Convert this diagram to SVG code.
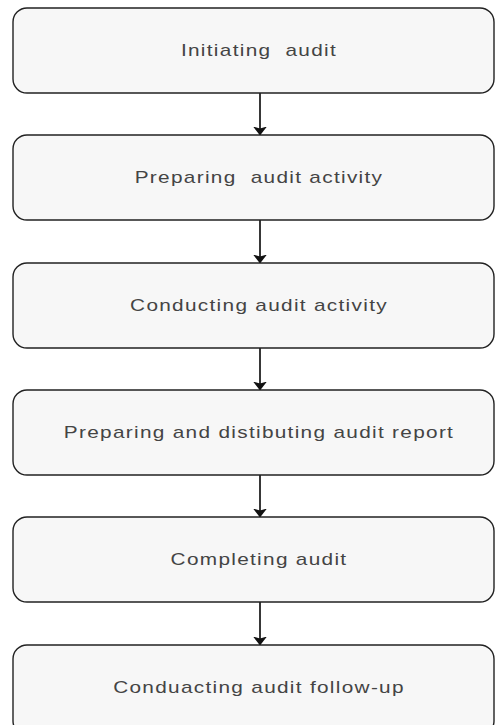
<svg xmlns="http://www.w3.org/2000/svg" width="496" height="725" viewBox="0 0 496 725" xml:space="preserve">
  <defs>
    <marker id="arrowhead" markerWidth="9" markerHeight="14" refX="8.5" refY="7" orient="auto" markerUnits="userSpaceOnUse">
      <path d="M0,0 L9,7 L0,14 L2,7 Z" fill="#111"/>
    </marker>
    <style>
      .step rect { fill: #f7f7f7; stroke: #222; stroke-width: 1.4; }
      .step text { font-family: "Liberation Sans", Arial, sans-serif; font-size: 16px; letter-spacing: 1px; fill: #444; text-anchor: middle; white-space: pre; }
      .link { stroke: #222; stroke-width: 1.8; fill: none; marker-end: url(#arrowhead); }
    </style>
  </defs>
  <rect width="496" height="725" fill="#ffffff"/>

  <g id="connectors">
    <line class="link" x1="260" y1="93" x2="260" y2="135"/>
    <line class="link" x1="260" y1="220" x2="260" y2="263"/>
    <line class="link" x1="260" y1="348" x2="260" y2="390"/>
    <line class="link" x1="260" y1="475" x2="260" y2="517"/>
    <line class="link" x1="260" y1="602" x2="260" y2="645"/>
  </g>

  <!-- labels are widened horizontally to fill the boxes -->
  <g id="initiating-audit" class="step">
    <rect x="13" y="8" width="481" height="85" rx="14"/>
    <text transform="translate(259 56) scale(1.3 1)">Initiating  audit</text>
  </g>
  <g id="preparing-audit-activity" class="step">
    <rect x="13" y="135" width="481" height="85" rx="14"/>
    <text transform="translate(259 183) scale(1.3 1)">Preparing  audit activity</text>
  </g>
  <g id="conducting-audit-activity" class="step">
    <rect x="13" y="263" width="481" height="85" rx="14"/>
    <text transform="translate(259 311) scale(1.3 1)">Conducting audit activity</text>
  </g>
  <g id="preparing-distributing-report" class="step">
    <rect x="13" y="390" width="481" height="85" rx="14"/>
    <text transform="translate(259 438) scale(1.3 1)">Preparing and distibuting audit report</text>
  </g>
  <g id="completing-audit" class="step">
    <rect x="13" y="517" width="481" height="85" rx="14"/>
    <text transform="translate(259 565) scale(1.3 1)">Completing audit</text>
  </g>
  <g id="audit-follow-up" class="step">
    <rect x="13" y="645" width="481" height="90" rx="14"/>
    <text transform="translate(259 693) scale(1.3 1)">Conduacting audit follow-up</text>
  </g>
</svg>
